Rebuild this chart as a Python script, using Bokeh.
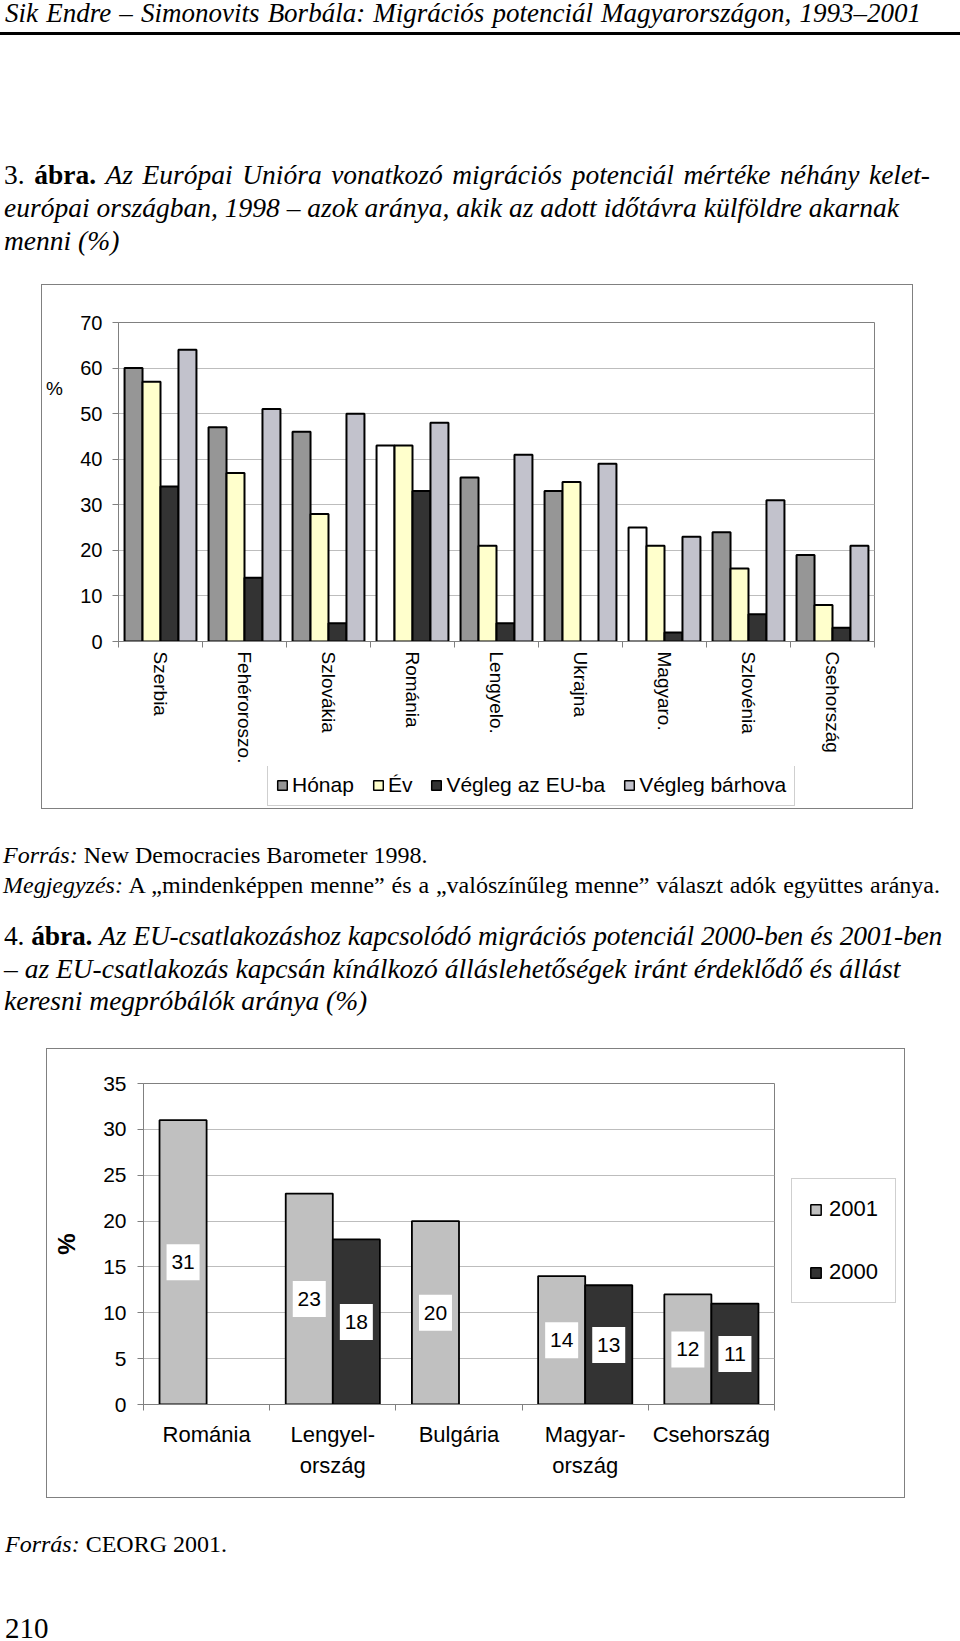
import math
from bokeh.plotting import figure
from bokeh.models import (ColumnDataSource, Range1d, LinearAxis, FixedTicker,
                          CustomJSTickFormatter, Legend, LegendItem, Div)
from bokeh.layouts import column, row
from bokeh.transform import dodge
from bokeh.core.properties import value
from bokeh.embed import file_html
from bokeh.resources import INLINE

# ---------------- data: chart 1 (3. ábra) ----------------
countries1 = ["Szerbia", "Fehéroroszo.", "Szlovákia", "Románia", "Lengyelo.",
              "Ukrajna", "Magyaro.", "Szlovénia", "Csehország"]
honap = [60, 47, 46, 43, 36, 33, 25, 24, 19]
ev = [57, 37, 28, 43, 21, 35, 21, 16, 8]
vegleg_eu = [34, 14, 4, 33, 4, 0, 2, 6, 3]
vegleg_barhova = [64, 51, 50, 48, 41, 39, 23, 31, 21]
series1 = ["Hónap", "Év", "Végleg az EU-ba", "Végleg bárhova"]
yticks1 = [0, 10, 20, 30, 40, 50, 60, 70]
unit1 = "%"

# ---------------- data: chart 2 (4. ábra) ----------------
countries2 = ["Románia", "Lengyelország", "Bulgária", "Magyarország", "Csehország"]
xlabels2 = ["Románia", "Lengyel-\nország", "Bulgária", "Magyar-\nország", "Csehország"]
y2001 = [31, 23, 20, 14, 12]
y2000 = [None, 18, None, 13, 11]
series2 = ["2001", "2000"]
yticks2 = [0, 5, 10, 15, 20, 25, 30, 35]

# ---------------- styles ----------------
SANS = "Liberation Sans"
SERIF = "'Liberation Serif', 'Times New Roman', serif"
GRAY_AX = "#808080"
GRID = "#bdbdbd"
honap_fill = ["#969696", "#969696", "#969696", "#ffffff", "#969696",
              "#969696", "#ffffff", "#969696", "#969696"]
colors1 = ["#969696", "#ffffcc", "#333333", "#c2c2cc"]
colors2 = ["#c0c0c0", "#333333"]
BOX = {"box-shadow": "0 0 0 1px #808080"}
UNIT_Y = 55.5          # vertical position of the small unit mark (in axis units)


def cat_axis(labels, **kw):
    n = len(labels)
    return LinearAxis(
        ticker=FixedTicker(ticks=[i + 0.5 for i in range(n)], minor_ticks=list(range(n + 1))),
        formatter=CustomJSTickFormatter(args=dict(labels=labels),
                                        code="return labels[Math.floor(tick)];"),
        axis_line_color=GRAY_AX, major_tick_line_color=None, major_tick_out=0, major_tick_in=0,
        minor_tick_line_color=GRAY_AX, minor_tick_out=6, minor_tick_in=0,
        major_label_text_font=SANS, major_label_text_color="black", **kw)


def style_yaxis(ax, ticks, size, standoff):
    ax.ticker = FixedTicker(ticks=ticks)
    ax.axis_line_color = GRAY_AX
    ax.major_tick_line_color = GRAY_AX
    ax.major_tick_out = 6
    ax.major_tick_in = 0
    ax.minor_tick_line_color = None
    ax.major_label_text_font = SANS
    ax.major_label_text_font_size = size
    ax.major_label_text_color = "black"
    ax.major_label_standoff = standoff


def blank_fig(w, h, xr, yr):
    f = figure(width=w, height=h, x_range=xr, y_range=yr, x_axis_location=None,
               y_axis_location=None, output_backend="svg", toolbar_location=None, title=None,
               min_border=0, min_border_left=0, min_border_right=0, min_border_top=0,
               min_border_bottom=0, outline_line_color=None,
               background_fill_color="white", border_fill_color="white")
    f.xgrid.visible = False
    f.ygrid.visible = False
    return f


def legend_proxies(fig, colors):
    # tiny stand-in glyphs for the legend keys, hidden behind the opaque legend box
    return [fig.vbar(x=[0.5], bottom=[0.48], top=[0.52], width=0.01, fill_color=c,
                     line_color="black", line_width=1.5) for c in colors]


# ================= chart 1 =================
n1 = len(countries1)
H1 = 481
p1 = figure(width=846, height=H1, x_range=Range1d(0, n1), y_range=Range1d(0, 70),
            x_axis_location=None, output_backend="svg", toolbar_location=None, title=None,
            min_border_left=52, min_border_right=38, min_border_top=37, min_border_bottom=123,
            background_fill_color="white", border_fill_color="white", outline_line_color=GRAY_AX)
p1.xgrid.visible = False
style_yaxis(p1.yaxis[0], yticks1, "20px", 10)
p1.ygrid.grid_line_color = GRID
p1.ygrid.ticker = FixedTicker(ticks=yticks1)
p1.add_layout(cat_axis(countries1, major_label_orientation="vertical", major_label_standoff=4,
                       major_label_text_font_size="19px"), "below")

src1 = ColumnDataSource(dict(xc=[i + 0.5 for i in range(n1)], honap=honap, ev=ev, eu=vegleg_eu,
                             barhova=vegleg_barhova, honap_fill=honap_fill))
offs1 = [-0.321, -0.107, 0.107, 0.321]
bw1 = 0.214
fields1 = ["honap", "ev", "eu", "barhova"]
for k, f in enumerate(fields1):
    fc = "honap_fill" if f == "honap" else colors1[k]
    p1.vbar(x=dodge("xc", offs1[k]), top=f, width=bw1, source=src1,
            fill_color=fc, line_color="black", line_width=2)

# unit mark column left of the value axis (its frame is aligned with the plot frame)
unit_fig = blank_fig(24, H1, Range1d(0, 1), p1.y_range)
unit_fig.text(x=[0.5], y=[UNIT_Y], text=[unit1], text_font=value(SANS), text_font_size="19px",
              text_align="center", text_baseline="middle", text_color="black")

# legend strip under the plot
leg_fig1 = blank_fig(870, 42, Range1d(0, 1), Range1d(0, 1))
lrs1 = legend_proxies(leg_fig1, colors1)
leg1 = Legend(items=[LegendItem(label=series1[k], renderers=[lrs1[k]]) for k in range(4)],
              orientation="horizontal", location=(225, 2), margin=0, padding=8, spacing=18,
              glyph_width=12, glyph_height=12, label_height=12, label_standoff=4,
              label_text_font=SANS, label_text_font_size="21px", label_text_color="black",
              border_line_color="#a0a0a0", border_line_width=1, background_fill_color="white",
              background_fill_alpha=1.0)
leg_fig1.add_layout(leg1)

chart1 = column(row(unit_fig, p1, spacing=0), leg_fig1, spacing=0,
                margin=(0, 0, 0, 42), styles=BOX)

# ================= chart 2 =================
n2 = len(countries2)
p2 = figure(width=743, height=448, x_range=Range1d(0, n2), y_range=Range1d(0, 35),
            x_axis_location=None, output_backend="svg", toolbar_location=None, title=None,
            min_border_left=96, min_border_right=16, min_border_top=34, min_border_bottom=93,
            background_fill_color="white", border_fill_color="white", outline_line_color=GRAY_AX)
p2.xgrid.visible = False
yb = p2.yaxis[0]
style_yaxis(yb, yticks2, "21px", 11)
yb.axis_label = "%"
yb.axis_label_text_font = SANS
yb.axis_label_text_font_size = "24px"
yb.axis_label_text_font_style = "bold"
yb.axis_label_text_color = "black"
yb.axis_label_standoff = 20
p2.ygrid.grid_line_color = GRID
p2.ygrid.ticker = FixedTicker(ticks=yticks2)
p2.add_layout(cat_axis(xlabels2, major_label_standoff=11, major_label_text_font_size="22px",
                       major_label_text_line_height=1.25), "below")

y2000_vals = [float("nan") if v is None else v for v in y2000]
src2 = ColumnDataSource(dict(xc=[i + 0.5 for i in range(n2)], y2001=y2001, y2000=y2000_vals))
off2 = 0.1865
bw2 = 0.373
p2.vbar(x=dodge("xc", -off2), top="y2001", width=bw2, source=src2,
        fill_color=colors2[0], line_color="black", line_width=1.8)
p2.vbar(x=dodge("xc", off2), top="y2000", width=bw2, source=src2,
        fill_color=colors2[1], line_color="black", line_width=1.8)

for vals, off in ((y2001, -off2), (y2000, off2)):
    lab = ColumnDataSource(dict(
        xc=[i + 0.5 for i, v in enumerate(vals) if v is not None],
        mid=[v / 2 for v in vals if v is not None],
        txt=[str(v) for v in vals if v is not None]))
    p2.rect(x=dodge("xc", off), y="mid", width=33, height=36,
            width_units="screen", height_units="screen", fill_color="white", line_color=None, source=lab)
    p2.text(x=dodge("xc", off), y="mid", text="txt", source=lab,
            text_font=value(SANS), text_font_size="21px", text_align="center",
            text_baseline="middle", text_color="black")

# legend column right of the plot (its frame is aligned with the plot frame)
leg_fig2 = blank_fig(114, 448, Range1d(0, 1), Range1d(0, 1))
lrs2 = legend_proxies(leg_fig2, colors2)
leg2 = Legend(items=[LegendItem(label=series2[k], renderers=[lrs2[k]]) for k in range(2)],
              orientation="vertical", location=(1, 101), margin=0, padding=17, spacing=37,
              glyph_width=13, glyph_height=13, label_height=13, label_standoff=7,
              label_text_font=SANS, label_text_font_size="22px", label_text_color="black",
              border_line_color="#a0a0a0", border_line_width=1, background_fill_color="white",
              background_fill_alpha=1.0)
leg_fig2.add_layout(leg2)

chart2 = row(p2, leg_fig2, spacing=0, margin=(0, 0, 0, 47), styles=BOX)

# ================= text blocks =================
def line(top, left, size, html, lh=None):
    lh = size if lh is None else lh
    return (f'<div style="position:absolute;left:{left}px;top:{top}px;font-size:{size}px;'
            f'line-height:{lh}px;white-space:nowrap;">{html}</div>')

def jline(top, left, size, html, width, ls=0.0):
    return (f'<div style="position:absolute;left:{left}px;top:{top}px;width:{width}px;'
            f'font-size:{size}px;line-height:{size}px;letter-spacing:{ls}px;'
            f'text-align:justify;text-align-last:justify;">{html}</div>')

def block(h, inner):
    return (f'<div style="position:relative;width:960px;height:{h}px;font-family:{SERIF};'
            f'color:#000;">{inner}</div>')

textA = block(285,
    jline(0, 5, 27, "<i>Sik Endre – Simonovits Borbála: Migrációs potenciál Magyarországon, 1993–2001</i>", 916)
    + '<div style="position:absolute;left:0px;top:32px;width:960px;height:3px;background:#000;"></div>'
    + jline(161, 4, 27.5, "3. <b>ábra.</b> <i>Az Európai Unióra vonatkozó migrációs potenciál mértéke néhány kelet-</i>", 926)
    + line(194, 4, 27.5, "<i>európai országban, 1998 – azok aránya, akik az adott időtávra külföldre akarnak</i>")
    + line(227, 4, 27.5, "<i>menni (%)</i>"))

textB = block(241,
    line(35, 3, 24, "<i>Forrás:</i> New Democracies Barometer 1998.")
    + jline(65, 3, 24, "<i>Megjegyzés:</i> A „mindenképpen menne” és a „valószínűleg menne” választ adók együttes aránya.", 937)
    + jline(114, 4, 27.5, "4. <b>ábra.</b> <i>Az EU-csatlakozáshoz kapcsolódó migrációs potenciál 2000-ben és 2001-ben</i>", 938, -0.2)
    + line(147, 4, 27.5, "<i>– az EU-csatlakozás kapcsán kínálkozó álláslehetőségek iránt érdeklődő és állást</i>")
    + line(179, 4, 27.5, "<i>keresni megpróbálók aránya (%)</i>"))

textC = block(144,
    line(35, 5, 24, "<i>Forrás:</i> CEORG 2001.")
    + line(121, 5, 29, "210", lh=20))

divA = Div(text=textA, width=960, height=285, margin=(0, 0, 0, 0))
divB = Div(text=textB, width=960, height=241, margin=(0, 0, 0, 0))
divC = Div(text=textC, width=960, height=144, margin=(0, 0, 0, 0))

page = column(divA, chart1, divB, chart2, divC, spacing=0)

open("out.html", "w").write(file_html(page, INLINE))
